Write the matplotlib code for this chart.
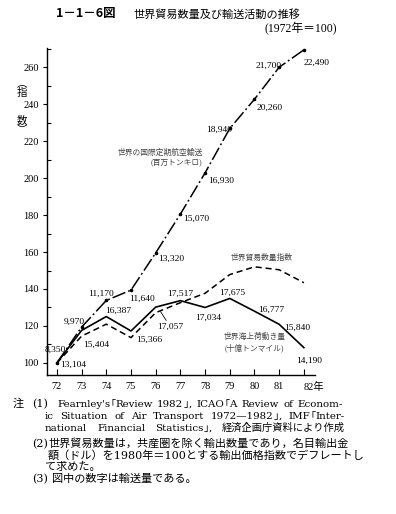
import matplotlib
matplotlib.use("Agg")
import matplotlib.pyplot as plt
import matplotlib.transforms as mtransforms

plt.rcParams['font.family'] = ['Liberation Serif', 'Noto Sans CJK JP', 'DejaVu Sans']

# ── data (1972 = 100) ─────────────────────────────────────────────
years = [72, 73, 74, 75, 76, 77, 78, 79, 80, 81, 82]
year_labels = ["72", "73", "74", "75", "76", "77", "78", "79", "80", "81", "82年"]

air_index = [100, 119.4, 133.8, 139.4, 159.5, 180.5, 202.8, 226.8, 242.6, 259.9, 269.3]
air_volume = ["8,350", "9,970", "11,170", "11,640", "13,320", "15,070",
              "16,930", "18,940", "20,260", "21,700", "22,490"]

sea_index = [100, 117.6, 125.1, 117.3, 130.2, 133.7, 130.0, 134.9, 128.0, 120.9, 108.3]
sea_volume = ["13,104", "15,404", "16,387", "15,366", "17,057", "17,517",
              "17,034", "17,675", "16,777", "15,840", "14,190"]

trade_index = [100, 114.5, 121.0, 113.7, 127.2, 132.6, 137.7, 147.8, 152.0, 150.4, 143.4]

# label offsets (pixels) from each point
air_off = [(-2, 13), (-7, 5), (-5, 7), (11, -9), (16, -6), (16, -5),
           (16, -8), (-11, -1), (15, -9), (-11, 1), (13, -13)]
sea_off = [(16, -2), (15, -14), (12, 6), (18, -9), (17, -15), (0, 7),
           (3, -10), (2, 6), (17, 1), (18, -3), (5, -13)]

W, H = 396, 514
fig = plt.figure(figsize=(W / 100, H / 100), dpi=100)
ax = fig.add_axes([47 / W, 1 - 375 / H, (315 - 47) / W, (375 - 48) / H])


def px(x, y):
    return x / W, 1 - y / H


# ── lines ────────────────────────────────────────────────────────
ax.plot(years, air_index, color="black", lw=1.1, dashes=(9, 2, 1.2, 2),
        marker="o", ms=1.6)
ax.plot(years, sea_index, color="black", lw=1.2)
ax.plot(years, trade_index, color="black", lw=1.1, dashes=(4, 2.5))

lab_kw = dict(textcoords="offset pixels", ha="center", va="center", fontsize=6.8)
for x, y, t, o in zip(years, air_index, air_volume, air_off):
    ax.annotate(t, (x, y), xytext=o, **lab_kw)
for i, (x, y, t, o) in enumerate(zip(years, sea_index, sea_volume, sea_off)):
    if i == 4:
        # 17,057 has a short leader line up to the curves
        ax.annotate(t, (x + 0.2, trade_index[i] + 0.5), xytext=(o[0] - 7, o[1] - 0.5),
                    arrowprops=dict(arrowstyle="-", lw=0.6, shrinkA=0, shrinkB=0),
                    **lab_kw)
    else:
        ax.annotate(t, (x, y), xytext=o, **lab_kw)

# series names
ax.text(77.9, 211, "世界の国際定期航空輸送\n(百万トンキロ)", ha="right", va="center",
        fontsize=5.6, color="#444444", linespacing=1.3)
ax.text(80.3, 157, "世界貿易数量指数", ha="center", va="center",
        fontsize=5.6, color="#444444")
ax.text(80.0, 111, "世界海上荷動き量\n(十億トンマイル)", ha="center", va="center",
        fontsize=5.6, color="#444444", linespacing=1.3)

# ── axes ─────────────────────────────────────────────────────────
ax.set_xlim(71.6, 82.45)
ax.set_ylim(93.5, 270.3)
for s in ["top", "right"]:
    ax.spines[s].set_visible(False)
ax.spines["left"].set_linewidth(1.0)
ax.spines["bottom"].set_linewidth(1.0)
ax.set_xticks(years)
ax.set_xticklabels(year_labels, fontsize=7.5)
# "82年": keep the number under its tick, 年 hangs to the right
last = ax.get_xticklabels()[-1]
last.set_horizontalalignment("left")
last.set_transform(last.get_transform() +
                   mtransforms.ScaledTranslation(-5 / 100, 0, fig.dpi_scale_trans))
ax.tick_params(axis="x", direction="in", length=4, width=0.8, pad=5)
ax.set_yticks(range(100, 261, 20))
ax.set_yticks(range(110, 271, 20), minor=True)
ax.tick_params(axis="y", which="major", direction="out", length=3, width=0.8,
               labelsize=7.5, pad=3)
ax.tick_params(axis="y", which="minor", direction="in", length=3, width=0.8)

# y label (vertical)
for ch, yy in [("︵", 84), ("指", 93), ("数", 121), ("︶", 130)]:
    fig.text(*px(22, yy), ch, ha="center", va="center", fontsize=7.5,
             family=["Noto Sans CJK JP", "DejaVu Sans"])

# ── title ────────────────────────────────────────────────────────
fig.text(*px(56, 14), "1－1－6図", ha="left", va="center", fontsize=9,
         fontweight="bold", family=["Noto Sans CJK JP", "DejaVu Sans"])
fig.text(*px(133, 14), "世界貿易数量及び輸送活動の推移", ha="left", va="center",
         fontsize=8)
fig.text(*px(337, 29), "(1972年＝100)", ha="right", va="center", fontsize=8.5)

# ── notes ────────────────────────────────────────────────────────
note_font = ["DejaVu Serif", "Noto Sans CJK JP", "DejaVu Sans"]
renderer = fig.canvas.get_renderer()


def runs(word):
    """split a word into latin / CJK pieces so each piece uses one font"""
    out = []
    for ch in word:
        cjk = ord(ch) > 0x2E00
        if out and out[-1][1] == cjk:
            out[-1][0] += ch
        else:
            out.append([ch, cjk])
    return out


def justify(words, x0, x1, y, size=7.4):
    """spread words evenly between x0 and x1 (pixels), y = baseline"""
    pieces = []
    for w in words:
        parts = []
        for s, cjk in runs(w):
            fam = "Noto Sans CJK JP" if cjk else "DejaVu Serif"
            t = fig.text(*px(x0, y), s, ha="left", va="baseline", fontsize=size,
                         family=fam)
            parts.append((t, t.get_window_extent(renderer).width))
        pieces.append(parts)
    total = sum(wd for parts in pieces for _, wd in parts)
    gap = (x1 - x0 - total) / max(len(words) - 1, 1)
    x = x0
    for parts in pieces:
        for t, wd in parts:
            t.set_position(px(x, y))
            x += wd
        x += gap


nk = dict(ha="left", va="baseline", fontsize=8, family=note_font)
fig.text(*px(13, 407), "注", **nk)
fig.text(*px(32, 407), "(1)", **nk)
justify(["Fearnley's｢Review", "1982｣,", "ICAO｢A", "Review", "of", "Econom-"],
        57, 343, 407)
justify(["ic", "Situation", "of", "Air", "Transport", "1972—1982｣,", "IMF｢Inter-"],
        45, 345, 419)
justify(["national", "Financial", "Statistics｣,", "経済企画庁資料により作成"],
        45, 345, 431)
fig.text(*px(32, 447), "(2)", **nk)
fig.text(*px(48, 447), "世界貿易数量は，共産圏を除く輸出数量であり，名目輸出金", **nk)
fig.text(*px(48, 459), "額（ドル）を1980年＝100とする輸出価格指数でデフレートし", **nk)
fig.text(*px(45, 470), "て求めた。", **nk)
fig.text(*px(32, 482), "(3)", **nk)
fig.text(*px(52, 482), "図中の数字は輸送量である。", **nk)

fig.savefig("out.png", dpi=100)
